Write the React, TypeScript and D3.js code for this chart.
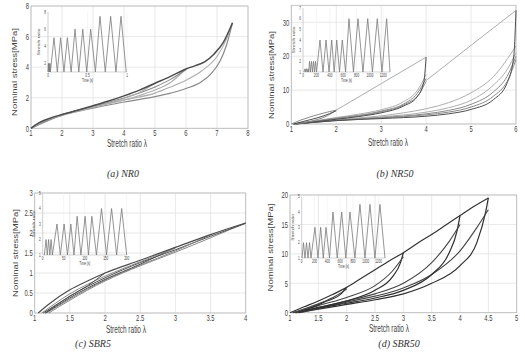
import React from 'react';
import * as d3 from 'd3';

type Pt = [number, number];

const FONT = '"Liberation Sans", Arial, sans-serif';
const SQ = 0.62;

// ---------- (a) NR0 ----------
const nr0XTicks = [1, 2, 3, 4, 5, 6, 7, 8];
const nr0YTicks = [0, 2, 4, 6, 8];
const nr0Load: Pt[] = [[1, 0], [1.25, 0.35], [1.5, 0.58], [2, 0.9], [2.5, 1.18], [3, 1.48], [3.5, 1.78], [4, 2.12], [4.5, 2.5], [5, 2.95], [5.5, 3.4], [6, 3.88], [6.3, 4.1], [6.6, 4.35], [6.9, 4.85], [7.2, 5.6], [7.5, 6.9]];
const nr0Unload5: Pt[] = [[1, 0], [1.5, 0.55], [2, 0.86], [3, 1.38], [4, 1.95], [4.5, 2.35], [5, 2.95]];
const nr0Unload6: Pt[] = [[1, 0], [2, 0.85], [3, 1.38], [4, 1.85], [4.5, 2.15], [5, 2.5], [5.5, 3.0], [6, 3.88]];
const nr0Reload6: Pt[] = [[1, 0], [2, 0.88], [3, 1.44], [4, 1.98], [5, 2.7], [5.5, 3.2], [6, 3.85]];
const nr0Unload75: Pt[] = [[1, 0], [1.5, 0.52], [2, 0.85], [3, 1.32], [4, 1.72], [5, 2.07], [5.5, 2.3], [6, 2.6], [6.5, 3.05], [6.8, 3.55], [7.1, 4.4], [7.3, 5.4], [7.5, 6.9]];
const nr0Reload75: Pt[] = [[1, 0], [2, 0.87], [3, 1.4], [4, 1.85], [5, 2.3], [5.5, 2.7], [6, 3.15], [6.5, 3.75], [7, 4.7], [7.3, 5.8], [7.5, 6.9]];
const nr0InsetTime = [0, 0.005, 0.01, 0.015, 0.02, 0.025, 0.03, 0.076, 0.118, 0.16, 0.202, 0.245, 0.293, 0.342, 0.39, 0.44, 0.49, 0.54, 0.6, 0.658, 0.725, 0.793, 0.86, 0.924, 0.99];
const nr0InsetStretch = [1, 2, 1, 2, 1, 2, 1, 5, 1, 5, 1, 5, 1, 6, 1, 6, 1, 6, 1, 7.5, 1, 7.5, 1, 7.5, 1];
const nr0InsetTimeTicks = [0, 0.5, 1];
const nr0InsetStretchTicks = [2, 4, 6, 8];

// ---------- (b) NR50 ----------
const nr50XTicks = [1, 2, 3, 4, 5, 6];
const nr50YTicks = [0, 10, 20, 30];
const nr50Load2: Pt[] = [[1, 0], [1.2, 1.1], [1.4, 2.0], [1.6, 2.8], [1.8, 3.5], [2, 4.1]];
const nr50Load4: Pt[] = [[2, 4.1], [3, 11.9], [4, 19.7]];
const nr50Load6: Pt[] = [[4, 12.8], [5, 23.2], [6, 33.5]];
const nr50Unload2: Pt[] = [[1.05, 0], [1.3, 0.5], [1.6, 1.4], [1.8, 2.4], [2, 4.1]];
const nr50Reload2: Pt[] = [[1.05, 0], [1.4, 1.2], [1.7, 2.3], [2, 3.9]];
const nr50Unload4: Pt[] = [[1.05, 0], [1.5, 0.6], [2, 1.4], [2.5, 2.2], [3, 3.3], [3.5, 5.3], [3.8, 8], [3.95, 12.5], [4, 19.7]];
const nr50Reload4a: Pt[] = [[1.05, 0], [1.5, 0.9], [2, 1.9], [2.5, 2.9], [3, 4.2], [3.5, 6.6], [3.8, 9.8], [4, 14.6]];
const nr50Reload4b: Pt[] = [[1.05, 0], [2, 1.7], [3, 3.8], [3.5, 5.9], [3.8, 9], [4, 13.4]];
const nr50Reload4c: Pt[] = [[1.05, 0], [2, 1.6], [3, 3.6], [3.5, 5.6], [3.85, 9], [4, 12.6]];
const nr50Unload6: Pt[] = [[1.1, 0], [1.5, 0.5], [2, 1.0], [3, 1.6], [4, 2.3], [4.5, 3.0], [5, 4.3], [5.5, 7.2], [5.8, 12], [5.95, 20], [6, 33.5]];
const nr50Reload6a: Pt[] = [[1.1, 0], [2, 1.3], [3, 2.4], [3.5, 3.3], [4, 4.5], [4.5, 6.3], [5, 9.2], [5.5, 14], [6, 23]];
const nr50Reload6b: Pt[] = [[1.1, 0], [2, 1.2], [3, 2.1], [4, 3.5], [4.5, 4.8], [5, 7], [5.5, 11.5], [5.8, 16], [6, 21]];
const nr50Reload6c: Pt[] = [[1.1, 0], [2, 1.1], [3, 1.9], [4, 3.0], [4.5, 4], [5, 5.8], [5.5, 9.5], [5.8, 14], [6, 20]];
const nr50Reload6d: Pt[] = [[1.1, 0], [2, 1.0], [3, 1.8], [4, 2.7], [4.5, 3.5], [5, 5], [5.5, 8.2], [5.8, 12.5], [6, 19]];
const nr50InsetTime = [15, 30, 41, 52, 63, 75, 86, 97, 112, 127, 142, 157, 172, 187, 202, 254, 299, 344, 389, 429, 466, 504, 545, 587, 636, 687, 754, 822, 896, 967, 1038, 1110, 1180, 1250, 1300];
const nr50InsetStretch = [1, 1.3, 1, 1.3, 1, 1.3, 1, 2, 1, 2, 1, 2, 1, 2, 1, 4, 1, 4, 1, 4, 1, 4, 1, 4, 1, 6, 1, 6, 1, 6, 1, 6, 1, 6, 1];
const nr50InsetTimeTicks = [0, 200, 400, 600, 800, 1000, 1200];
const nr50InsetStretchTicks = [1, 2, 3, 4, 5, 6, 7];

// ---------- (c) SBR5 ----------
const sbr5XTicks = [1, 1.5, 2, 2.5, 3, 3.5, 4];
const sbr5YTicks = [0, 0.5, 1, 1.5, 2, 2.5, 3];
const sbr5Load: Pt[] = [[1.05, 0], [1.2, 0.22], [1.5, 0.58], [1.75, 0.8], [2, 1.0], [2.5, 1.32], [3, 1.64], [3.5, 1.96], [4, 2.25]];
const sbr5Unload2: Pt[] = [[1.12, 0], [1.3, 0.2], [1.5, 0.42], [1.75, 0.68], [2, 1.0]];
const sbr5Unload3: Pt[] = [[1.15, 0], [1.3, 0.16], [1.5, 0.38], [2, 0.84], [2.5, 1.22], [3, 1.64]];
const sbr5Unload35: Pt[] = [[1.17, 0], [1.5, 0.35], [2, 0.82], [2.5, 1.2], [3, 1.55], [3.5, 1.96]];
const sbr5Unload4: Pt[] = [[1.2, 0], [1.5, 0.32], [2, 0.8], [2.5, 1.18], [3, 1.52], [3.5, 1.88], [4, 2.25]];
const sbr5Reload3: Pt[] = [[1.1, 0], [1.5, 0.48], [2, 0.92], [2.5, 1.28], [3, 1.62]];
const sbr5Reload4: Pt[] = [[1.15, 0], [1.5, 0.42], [2, 0.88], [2.5, 1.26], [3, 1.58], [3.5, 1.92], [4, 2.24]];
const sbr5InsetTime = [4, 8, 11, 14, 17, 20, 23, 34, 42, 51, 59, 67, 74.5, 82, 91, 101, 109, 117, 128, 140, 152, 164, 176, 188, 200];
const sbr5InsetStretch = [1, 2, 1, 2, 1, 2, 1, 3, 1, 3, 1, 3, 1, 3.5, 1, 3.5, 1, 3.5, 1, 4, 1, 4, 1, 4, 1];
const sbr5InsetTimeTicks = [0, 50, 100, 150, 200];
const sbr5InsetStretchTicks = [1, 2, 3, 4, 5];

// ---------- (d) SBR50 ----------
const sbr50XTicks = [1, 1.5, 2, 2.5, 3, 3.5, 4, 4.5, 5];
const sbr50YTicks = [0, 5, 10, 15, 20];
const sbr50Load: Pt[] = [[1, 0], [1.25, 1.0], [1.5, 2.0], [1.75, 3.1], [2, 4.3], [2.25, 5.8], [2.5, 7.3], [2.75, 8.8], [3, 10.2], [3.25, 11.8], [3.5, 13.3], [3.75, 14.9], [4, 16.5], [4.2, 17.8], [4.5, 19.5]];
const sbr50Unload2: Pt[] = [[1.05, 0], [1.3, 0.6], [1.6, 1.8], [1.9, 3.2], [2, 4.3]];
const sbr50Reload2: Pt[] = [[1.05, 0], [1.5, 1.5], [1.8, 2.8], [2, 4.0]];
const sbr50Unload3: Pt[] = [[1.1, 0], [1.5, 0.9], [2, 2.0], [2.5, 3.8], [2.8, 6], [2.95, 8.5], [3, 10.2]];
const sbr50Reload3: Pt[] = [[1.1, 0], [1.5, 1.2], [2, 2.6], [2.5, 4.6], [2.8, 7], [3, 9.5]];
const sbr50Unload4: Pt[] = [[1.1, 0], [1.5, 0.8], [2, 1.6], [2.5, 2.5], [3, 3.8], [3.5, 6.5], [3.8, 10], [3.95, 14], [4, 16.5]];
const sbr50Reload4: Pt[] = [[1.1, 0], [2, 2.0], [2.5, 3.2], [3, 5.0], [3.5, 8.5], [3.8, 12], [4, 15]];
const sbr50Unload45: Pt[] = [[1.15, 0], [1.5, 0.6], [2, 1.4], [2.5, 2.2], [3, 3.2], [3.5, 5], [4, 8], [4.3, 12], [4.45, 17], [4.5, 19.5]];
const sbr50Reload45: Pt[] = [[1.15, 0], [2, 1.8], [3, 4.2], [3.5, 6.5], [4, 10.5], [4.3, 14.5], [4.5, 17.5]];
const sbr50InsetTime = [5, 28, 51, 75, 98, 122, 145, 207, 254, 296, 337, 379, 434, 488, 555, 624, 688, 753, 831, 909, 987, 1065, 1143, 1221, 1300];
const sbr50InsetStretch = [1, 2, 1, 2, 1, 2, 1, 3, 1, 3, 1, 3, 1, 4, 1, 4, 1, 4, 1, 4.5, 1, 4.5, 1, 4.5, 1];
const sbr50InsetTimeTicks = [0, 200, 400, 600, 800, 1000, 1200];
const sbr50InsetStretchTicks = [1, 2, 3, 4, 5];

type Curve = { pts: Pt[]; color: string; w: number };
type Inset = {
  left: number; right: number; top: number; bottom: number;
  tDomain: [number, number]; sDomain: [number, number];
  time: number[]; stretch: number[]; tTicks: number[]; sTicks: number[];
};
type PanelCfg = {
  left: number; right: number; top: number; bottom: number;
  xDomain: [number, number]; yDomain: [number, number];
  xTicks: number[]; yTicks: number[]; curves: Curve[]; inset: Inset;
  xLabelX: number; xLabelY: number; yLabelX: number; yLabelY: number;
  caption: string; capX: number; capY: number;
};

function SText(props: { x: number; y: number; size: number; anchor?: string; rot?: boolean; fill?: string; children: React.ReactNode; len?: number }) {
  const { x, y, size, anchor = 'middle', rot = false, fill = '#3f3f3f', children, len } = props;
  return (
    <text
      transform={`translate(${x},${y}) scale(${SQ},1)${rot ? ' rotate(-90)' : ''}`}
      fontSize={size}
      fontFamily={FONT}
      textAnchor={anchor}
      fill={fill}
      {...(len ? { textLength: len, lengthAdjust: 'spacingAndGlyphs' } : {})}
    >
      {children}
    </text>
  );
}

function InsetPlot({ ins }: { ins: Inset }) {
  const t = d3.scaleLinear().domain(ins.tDomain).range([ins.left, ins.right]);
  const s = d3.scaleLinear().domain(ins.sDomain).range([ins.bottom, ins.top]);
  const pts: Pt[] = ins.time.map((tv, i) => [tv, ins.stretch[i]]);
  const line = d3.line<Pt>().x(d => t(d[0])).y(d => s(d[1]));
  return (
    <g>
      {ins.tTicks.map(v => (
        <line key={'tg' + v} x1={t(v)} x2={t(v)} y1={ins.top} y2={ins.bottom} stroke="#ececec" strokeWidth={0.5} />
      ))}
      <line x1={ins.left} x2={ins.left} y1={ins.top} y2={ins.bottom} stroke="#bbb" strokeWidth={0.6} />
      <line x1={ins.left} x2={ins.right} y1={ins.bottom} y2={ins.bottom} stroke="#bbb" strokeWidth={0.6} />
      <path d={line(pts) || ''} fill="none" stroke="#7a7a7a" strokeWidth={0.8} />
      {ins.tTicks.map(v => (
        <SText key={'tt' + v} x={t(v)} y={ins.bottom + 5} size={5}>{String(v)}</SText>
      ))}
      {ins.sTicks.map(v => (
        <SText key={'st' + v} x={ins.left - 2} y={s(v) + 1.7} size={5} anchor="end">{String(v)}</SText>
      ))}
      <SText x={(ins.left + ins.right) / 2} y={ins.bottom + 10} size={5}>Time [s]</SText>
      <SText x={ins.left - 8} y={(ins.top + ins.bottom) / 2} size={5} rot>Stretch ratio</SText>
    </g>
  );
}

function Panel({ c }: { c: PanelCfg }) {
  const x = d3.scaleLinear().domain(c.xDomain).range([c.left, c.right]);
  const y = d3.scaleLinear().domain(c.yDomain).range([c.bottom, c.top]);
  const line = d3.line<Pt>().x(d => x(d[0])).y(d => y(d[1])).curve(d3.curveMonotoneX);
  return (
    <g>
      {c.xTicks.map(v => (
        <line key={'xg' + v} x1={x(v)} x2={x(v)} y1={c.top} y2={c.bottom} stroke="#e2e2e2" strokeWidth={0.8} />
      ))}
      {c.yTicks.map(v => (
        <line key={'yg' + v} x1={c.left} x2={c.right} y1={y(v)} y2={y(v)} stroke="#e2e2e2" strokeWidth={0.8} />
      ))}
      <rect x={c.left} y={c.top} width={c.right - c.left} height={c.bottom - c.top} fill="none" stroke="#b8b8b8" strokeWidth={0.8} />
      <InsetPlot ins={c.inset} />
      {c.curves.map((cv, i) => (
        <path key={i} d={line(cv.pts) || ''} fill="none" stroke={cv.color} strokeWidth={cv.w} strokeLinejoin="round" />
      ))}
      {c.xTicks.map(v => (
        <SText key={'xt' + v} x={x(v)} y={c.bottom + 8} size={9.5}>{String(v)}</SText>
      ))}
      {c.yTicks.map(v => (
        <SText key={'yt' + v} x={c.left - 2} y={y(v) + 3.3} size={9.5} anchor="end">{String(v)}</SText>
      ))}
      <SText x={c.xLabelX} y={c.xLabelY} size={10.5}>Stretch ratio λ</SText>
      <SText x={c.yLabelX} y={c.yLabelY} size={10.5} rot len={88}>Nominal stress[MPa]</SText>
      <text x={c.capX} y={c.capY} fontSize={10} fontStyle="italic" fontFamily='"Liberation Serif", "DejaVu Serif", serif' textAnchor="middle" fill="#333">{c.caption}</text>
    </g>
  );
}

const G1 = '#4d4d4d';
const G2 = '#8a8a8a';
const G3 = '#adadad';

const panels: PanelCfg[] = [
  {
    left: 31, right: 248, top: 6, bottom: 128.3, xDomain: [1, 8], yDomain: [0, 8],
    xTicks: nr0XTicks, yTicks: nr0YTicks,
    curves: [
      { pts: nr0Unload75, color: G2, w: 1.2 },
      { pts: nr0Reload75, color: G3, w: 1.1 },
      { pts: nr0Unload6, color: G3, w: 1.1 },
      { pts: nr0Reload6, color: G2, w: 1.1 },
      { pts: nr0Unload5, color: G3, w: 1.1 },
      { pts: nr0Load, color: G1, w: 1.5 },
    ],
    inset: { left: 48, right: 127, top: 12, bottom: 72, tDomain: [0, 1], sDomain: [1, 8], time: nr0InsetTime, stretch: nr0InsetStretch, tTicks: nr0InsetTimeTicks, sTicks: nr0InsetStretchTicks },
    xLabelX: 127, xLabelY: 147, yLabelX: 17, yLabelY: 72,
    caption: '(a) NR0', capX: 123, capY: 176.5,
  },
  {
    left: 291.3, right: 516, top: 5.3, bottom: 124, xDomain: [1, 6], yDomain: [0, 35],
    xTicks: nr50XTicks, yTicks: nr50YTicks,
    curves: [
      { pts: nr50Load6, color: G3, w: 1 },
      { pts: nr50Load4, color: G3, w: 1 },
      { pts: nr50Reload6a, color: G3, w: 1 },
      { pts: nr50Reload6b, color: G3, w: 1 },
      { pts: nr50Reload6c, color: G2, w: 1 },
      { pts: nr50Reload6d, color: G2, w: 1 },
      { pts: nr50Unload6, color: G1, w: 1 },
      { pts: nr50Reload4a, color: G3, w: 1 },
      { pts: nr50Reload4b, color: G2, w: 1 },
      { pts: nr50Reload4c, color: G2, w: 1 },
      { pts: nr50Unload4, color: G1, w: 1 },
      { pts: nr50Unload2, color: G2, w: 1 },
      { pts: nr50Reload2, color: G1, w: 1 },
      { pts: nr50Load2, color: G2, w: 1 },
    ],
    inset: { left: 303, right: 390, top: 8, bottom: 72, tDomain: [0, 1300], sDomain: [1, 7], time: nr50InsetTime, stretch: nr50InsetStretch, tTicks: nr50InsetTimeTicks, sTicks: nr50InsetStretchTicks },
    xLabelX: 388, xLabelY: 146, yLabelX: 274, yLabelY: 75,
    caption: '(b) NR50', capX: 395, capY: 176.5,
  },
  {
    left: 34.7, right: 245.7, top: 193, bottom: 313, xDomain: [1, 4], yDomain: [0, 3],
    xTicks: sbr5XTicks, yTicks: sbr5YTicks,
    curves: [
      { pts: sbr5Unload4, color: G2, w: 1 },
      { pts: sbr5Reload4, color: G1, w: 1 },
      { pts: sbr5Unload35, color: G2, w: 1 },
      { pts: sbr5Unload3, color: G1, w: 1 },
      { pts: sbr5Reload3, color: G2, w: 1 },
      { pts: sbr5Unload2, color: G1, w: 1 },
      { pts: sbr5Load, color: G1, w: 1.2 },
    ],
    inset: { left: 42.7, right: 126.7, top: 193, bottom: 255, tDomain: [0, 200], sDomain: [1, 5], time: sbr5InsetTime, stretch: sbr5InsetStretch, tTicks: sbr5InsetTimeTicks, sTicks: sbr5InsetStretchTicks },
    xLabelX: 126, xLabelY: 332.5, yLabelX: 18, yLabelY: 253,
    caption: '(c) SBR5', capX: 93, capY: 346.5,
  },
  {
    left: 290, right: 516.7, top: 195, bottom: 312.7, xDomain: [1, 5], yDomain: [0, 20],
    xTicks: sbr50XTicks, yTicks: sbr50YTicks,
    curves: [
      { pts: sbr50Unload45, color: '#2e2e2e', w: 1.2 },
      { pts: sbr50Reload45, color: '#444', w: 1.1 },
      { pts: sbr50Unload4, color: '#2e2e2e', w: 1.2 },
      { pts: sbr50Reload4, color: '#444', w: 1.1 },
      { pts: sbr50Unload3, color: '#2e2e2e', w: 1.2 },
      { pts: sbr50Reload3, color: '#444', w: 1.1 },
      { pts: sbr50Unload2, color: '#2e2e2e', w: 1.2 },
      { pts: sbr50Reload2, color: '#444', w: 1.1 },
      { pts: sbr50Load, color: '#333', w: 1.2 },
    ],
    inset: { left: 301.7, right: 385, top: 196.7, bottom: 258, tDomain: [0, 1300], sDomain: [1, 5], time: sbr50InsetTime, stretch: sbr50InsetStretch, tTicks: sbr50InsetTimeTicks, sTicks: sbr50InsetStretchTicks },
    xLabelX: 389, xLabelY: 332, yLabelX: 273, yLabelY: 247.5,
    caption: '(d) SBR50', capX: 399, capY: 346.5,
  },
];

export default function App() {
  return (
    <svg width={525} height={357} viewBox="0 0 525 357" style={{ position: 'absolute', left: 0, top: 0, background: '#fff' }}>
      <rect x={0} y={0} width={525} height={357} fill="#fff" />
      {panels.map((p, i) => <Panel key={i} c={p} />)}
    </svg>
  );
}
